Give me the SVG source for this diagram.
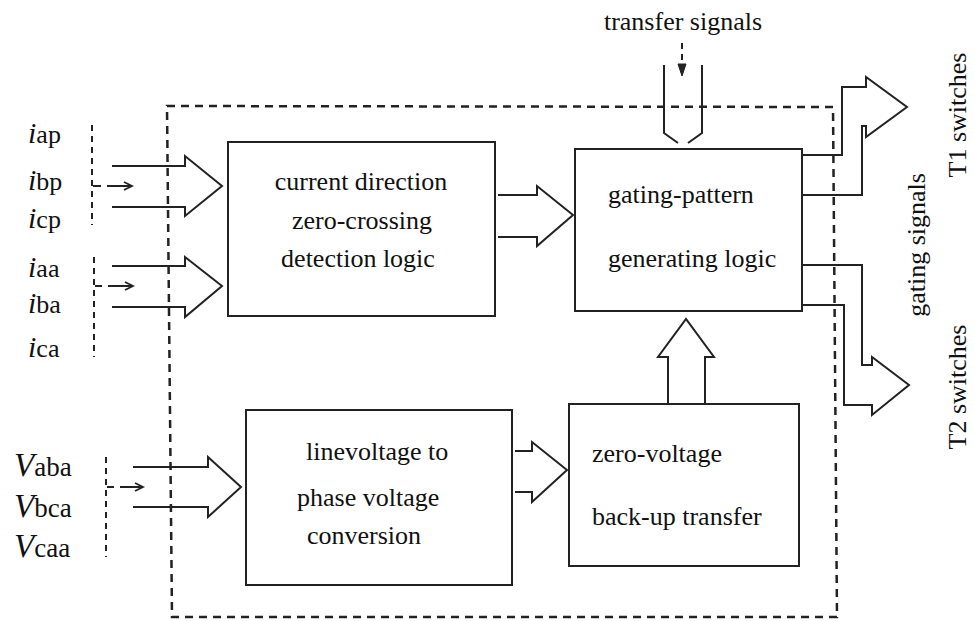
<svg xmlns="http://www.w3.org/2000/svg" width="975" height="621" viewBox="0 0 975 621">
<style>
  .box { fill: #fff; stroke: #222; stroke-width: 2; }
  .blk { fill: none; stroke: #222; stroke-width: 2; stroke-linejoin: miter; }
  .dash { fill: none; stroke: #222; stroke-width: 2.5; stroke-dasharray: 8 6; }
  .dl { fill: none; stroke: #222; stroke-width: 2; stroke-dasharray: 6 5; }
  .sm { fill: none; stroke: #222; stroke-width: 1.8; }
  text { font-family: "Liberation Serif", "Times New Roman", Times, "DejaVu Serif", serif; fill: #111; }
  .t { font-size: 26px; }
  .lab { font-size: 26px; }
  .it { font-style: italic; }
</style>
<rect x="0" y="0" width="975" height="621" fill="#fff"/>

<!-- outer dashed boundary -->
<polygon id="boundary" class="dash" points="167,106 833,107 837,617 172,617"/>

<!-- input labels -->
<g id="labels-i">
  <text class="lab" x="28" y="143" font-family="Liberation Serif, serif"><tspan class="it" font-size="30">i</tspan>ap</text>
  <text class="lab" x="28" y="190" font-family="Liberation Serif, serif"><tspan class="it" font-size="30">i</tspan>bp</text>
  <text class="lab" x="28" y="228" font-family="Liberation Serif, serif"><tspan class="it" font-size="30">i</tspan>cp</text>
  <text class="lab" x="28" y="277" font-family="Liberation Serif, serif"><tspan class="it" font-size="30">i</tspan>aa</text>
  <text class="lab" x="28" y="313" font-family="Liberation Serif, serif"><tspan class="it" font-size="30">i</tspan>ba</text>
  <text class="lab" x="28" y="357" font-family="Liberation Serif, serif"><tspan class="it" font-size="30">i</tspan>ca</text>
</g>
<g id="labels-v">
  <text class="lab" x="14" y="476"><tspan class="it" font-size="33">V</tspan><tspan font-size="27">aba</tspan></text>
  <text class="lab" x="14" y="517"><tspan class="it" font-size="33">V</tspan><tspan font-size="27">bca</tspan></text>
  <text class="lab" x="14" y="557"><tspan class="it" font-size="33">V</tspan><tspan font-size="27">caa</tspan></text>
</g>

<!-- nodes -->
<g id="node-current">
  <rect class="box" x="228" y="142" width="267" height="174"/>
  <text class="t" x="361" y="190" text-anchor="middle">current direction</text>
  <text class="t" x="362" y="229" text-anchor="middle">zero-crossing</text>
  <text class="t" x="358" y="267" text-anchor="middle">detection logic</text>
</g>
<g id="node-gating">
  <rect class="box" x="575" y="149" width="227" height="162"/>
  <text class="t" x="608" y="203">gating-pattern</text>
  <text class="t" x="608" y="267">generating logic</text>
</g>
<g id="node-linevoltage">
  <rect class="box" x="246" y="410" width="266" height="175"/>
  <text class="t" x="306" y="460">linevoltage to</text>
  <text class="t" x="297" y="506">phase voltage</text>
  <text class="t" x="307" y="544">conversion</text>
</g>
<g id="node-zerovoltage">
  <rect class="box" x="569" y="404" width="230" height="162"/>
  <text class="t" x="592" y="462">zero-voltage</text>
  <text class="t" x="592" y="525">back-up transfer</text>
</g>

<!-- connectors -->
<g id="connectors">
  <line class="dl" x1="92" y1="125" x2="92" y2="225"/>
  <line class="dl" x1="94" y1="257" x2="94" y2="357"/>
  <line class="dl" x1="106" y1="457" x2="106" y2="557"/>
  <path class="sm" d="M93,186 H101 M107,186 H132 M124,182 L132,186 L124,190"/>
  <path class="sm" d="M95,286 H102 M108,286 H133 M125,282 L133,286 L125,290"/>
  <path class="sm" d="M107,487 H114 M120,487 H143 M135,483 L143,487 L135,491"/>

  <path class="blk" d="M112,166 H185 V156 L222,186 L185,216 V207 H112"/>
  <path class="blk" d="M112,266 H185 V257 L222,286 L185,317 V307 H112"/>
  <path class="blk" d="M133,467 H208 V457 L241,487 L208,517 V507 H133"/>
  <path class="blk" d="M498,195 H537 V186 L573,215 L537,246 V237 H498"/>
  <path class="blk" d="M515,451 H532 V442 L567,470 L532,502 V492 H515"/>
  <path class="blk" d="M668,404 V357 H658 L686,319 L714,357 H705 V404"/>

  <path class="blk" d="M664,65 V133 L678,143"/>
  <path class="blk" d="M702,65 V133 L688,143"/>
  <line class="dl" x1="682" y1="43" x2="682" y2="66" stroke-dasharray="6 4"/>
  <path d="M678,64 L686,64 L682,76 Z" fill="#222" stroke="#222" stroke-width="1"/>

  <path class="blk" d="M802,155 H842 V87 H866 V77 L907,107 L866,137 V126 H862 V195 H802"/>
  <path class="blk" d="M802,265 H862 V365 H872 V357 L909,385 L872,415 V405 H844 V305 H802"/>
</g>

<g id="labels-out">
  <text class="t" x="683" y="30" text-anchor="middle" font-size="25">transfer signals</text>
  <text class="t" transform="translate(966,115) rotate(-90)" text-anchor="middle" font-size="27">T1 switches</text>
  <text class="t" transform="translate(925,245) rotate(-90)" text-anchor="middle">gating signals</text>
  <text class="t" transform="translate(966,387) rotate(-90)" text-anchor="middle" font-size="27">T2 switches</text>
</g>
</svg>
